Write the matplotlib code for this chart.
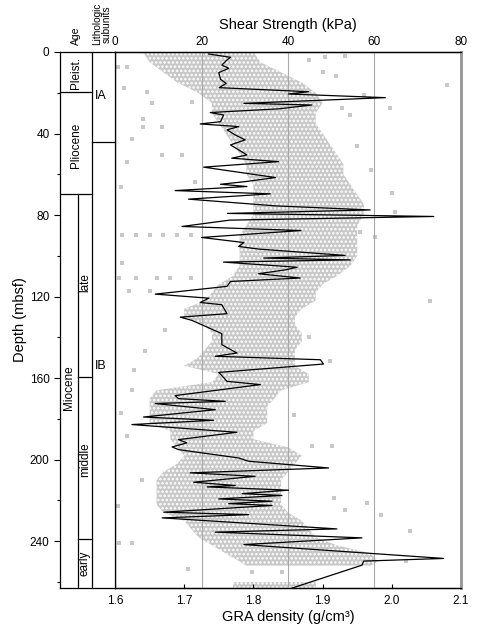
import numpy as np
import matplotlib
matplotlib.use("Agg")
import matplotlib.pyplot as plt

plt.rcParams['font.family'] = ['Liberation Sans', 'DejaVu Sans']
plt.rcParams['hatch.linewidth'] = 1.2

# ---- Shear strength (kPa) vs depth (mbsf) ----
shear_depth = [1.0, 2.6, 3.9, 6.4, 8.0, 10.1, 13.4, 15.4, 17.5, 19.5, 20.6, 22.4, 25.2, 26.0,
               27.9, 29.7, 30.9, 34.2, 35.3, 36.6, 38.2, 40.7, 43.1, 45.6, 50.5, 52.1, 53.8,
               56.5, 61.6, 63.6, 64.9, 66.0, 68.0, 69.6, 72.2, 75.5, 77.5, 79.2, 80.7, 82.5,
               85.6, 87.6, 91.0, 93.5, 95.4, 96.7, 99.8, 101.1, 102.0, 103.1, 105.6, 106.9,
               108.8, 110.9, 112.6, 115.0, 118.8, 120.8, 122.9, 124.0, 128.4, 130.1, 131.7,
               138.2, 143.6, 147.7, 149.3, 151.0, 153.1, 157.2, 158.8, 161.6, 163.2, 168.6,
               170.1, 171.4, 172.5, 175.5, 179.1, 180.7, 182.8, 186.6, 190.2, 191.8, 193.8,
               195.1, 199.2, 200.8, 204.1, 206.5, 208.2, 211.1, 212.7, 213.4, 215.0, 216.7,
               217.6, 219.3, 220.4, 221.6, 222.5, 225.8, 227.0, 228.6, 234.0, 235.6, 238.4,
               241.7, 248.5, 249.8, 251.8, 263.0]
shear_kpa = [21.7, 26.7, 25.9, 24.7, 26.3, 24.0, 24.4, 25.7, 24.1, 44.8, 40.1, 62.5, 29.8, 45.5,
             37.8, 22.0, 25.1, 24.4, 19.7, 28.6, 25.9, 27.8, 30.1, 26.7, 30.5, 27.0, 37.8,
             20.5, 37.1, 30.1, 24.4, 30.5, 13.9, 35.9, 17.0, 37.1, 59.0, 26.0, 73.7, 26.5,
             15.5, 43.0, 20.0, 29.8, 28.6, 33.2, 53.2, 34.4, 54.4, 25.1, 42.1, 39.4,
             33.2, 42.8, 26.7, 25.9, 9.3, 21.7, 19.7, 24.7, 25.9, 15.1, 17.8,
             24.7, 24.7, 28.2, 23.2, 47.5, 48.2, 24.0, 24.7, 25.9, 33.6, 13.9,
             14.7, 25.5, 9.3, 23.2, 6.6, 22.8, 3.9, 28.2, 14.7, 16.6, 13.2,
             14.7, 28.6, 30.9, 49.4, 17.4, 32.4, 18.2, 27.8, 21.3, 40.1, 29.4,
             38.6, 24.0, 36.3, 26.3, 36.3, 11.3, 30.9, 10.9, 51.3, 23.2, 57.1,
             29.8, 76.0, 57.5, 57.1, 41.0]

# ---- GRA density cloud: dense envelope (g/cm3) vs depth ----
gra_depth = [0, 5, 10, 15, 20, 25, 30, 35, 40, 45, 50, 55, 60, 65, 70, 75, 80, 85, 90, 95,
             100, 105, 110, 114, 118, 122, 126, 130, 134, 138, 142, 146, 150, 154, 158, 162,
             166, 170, 174, 178, 182, 186, 190, 194, 198, 202, 206, 210, 214, 218, 222, 226,
             230, 234, 238, 242, 246, 250, 252, 254, 258, 260, 263]
gra_lo = [1.64, 1.65, 1.67, 1.69, 1.72, 1.74, 1.74, 1.75, 1.76, 1.77, 1.78, 1.79, 1.79, 1.80,
          1.80, 1.80, 1.80, 1.79, 1.78, 1.78, 1.78, 1.78, 1.77, 1.75, 1.74, 1.73, 1.70, 1.70,
          1.73, 1.74, 1.74, 1.73, 1.72, 1.70, 1.75, 1.74, 1.66, 1.65, 1.65, 1.65, 1.65, 1.68,
          1.68, 1.69, 1.70, 1.69, 1.67, 1.66, 1.66, 1.66, 1.66, 1.67, 1.70, 1.71, 1.72, 1.74,
          1.76, 1.78, 1.79, np.nan, np.nan, 1.77, 1.77]
gra_hi = [1.80, 1.81, 1.84, 1.87, 1.89, 1.90, 1.89, 1.89, 1.90, 1.91, 1.92, 1.93, 1.93, 1.94,
          1.95, 1.96, 1.96, 1.95, 1.95, 1.95, 1.95, 1.94, 1.92, 1.90, 1.89, 1.89, 1.87, 1.86,
          1.86, 1.87, 1.87, 1.86, 1.86, 1.86, 1.88, 1.88, 1.84, 1.83, 1.82, 1.82, 1.82, 1.80,
          1.80, 1.85, 1.87, 1.86, 1.85, 1.84, 1.84, 1.84, 1.84, 1.85, 1.87, 1.88, 1.89, 1.92,
          1.97, 1.98, 1.97, np.nan, np.nan, 1.89, 1.89]

# scattered GRA points outside the dense cloud
out_depth = [7.2, 7.2, 17.8, 19.4, 25.2, 24.4, 27.6, 2.3, 2.1, 16.2, 27.6, 36.6, 36.6, 42.8,
             54.2, 50.5, 50.5, 66.0, 63.6, 69.3, 78.3, 89.6, 89.6, 89.6, 89.6, 89.6, 89.6,
             103.6, 111.0, 111.0, 111.0, 111.0, 111.0, 117.5, 117.5, 122.4, 88.1, 91.0,
             136.3, 146.9, 155.9, 165.7, 140.0, 151.8, 177.1, 188.6, 193.5, 193.5, 178.0,
             209.8, 218.8, 222.9, 240.8, 240.8, 227.3, 235.1, 249.9, 224.5, 221.2, 253.9,
             255.0, 255.0, 12.0, 31.0, 46.0, 58.0, 4.0, 10.0, 21.0, 33.0]
out_gra = [1.605, 1.617, 1.613, 1.646, 1.653, 1.711, 1.928, 1.904, 1.933, 2.08, 1.997, 1.641,
           1.668, 1.625, 1.617, 1.668, 1.697, 1.608, 1.716, 2.00, 2.005, 1.61, 1.63, 1.65,
           1.67, 1.69, 1.71, 1.61, 1.606, 1.63, 1.66, 1.68, 1.71, 1.62, 1.65, 2.055, 1.954,
           1.976, 1.672, 1.644, 1.627, 1.625, 1.88, 1.911, 1.608, 1.617, 1.914, 1.885, 1.858,
           1.639, 1.916, 1.605, 1.625, 1.606, 1.985, 2.027, 2.02, 1.932, 1.964, 1.706,
           1.798, 1.841, 1.92, 1.94, 1.95, 1.97, 1.88, 1.90, 1.96, 1.64]

# ---- Age / lithology columns ----
depth_ticks = [0, 40, 80, 120, 160, 200, 240]
gra_ticks = [1.6, 1.7, 1.8, 1.9, 2.0, 2.1]
kpa_ticks = [0, 20, 40, 60, 80]
DMAX = 263

fig = plt.figure(figsize=(4.78, 6.30), dpi=100)
W, H = 478, 630
L, R, T, B = 115, 461, 52, 588
ax = fig.add_axes([L / W, 1 - B / H, (R - L) / W, (B - T) / H])
cax = fig.add_axes([60 / W, 1 - B / H, (L - 60) / W, (B - T) / H], sharey=ax)

grey = '#c8c8c8'
ax.fill_betweenx(gra_depth, gra_lo, gra_hi, facecolor=grey, edgecolor='white',
                 hatch='....', linewidth=0, zorder=1)
ax.scatter(out_gra, out_depth, s=5, c=grey, marker='s', linewidths=0, zorder=1)
ax.set_xlim(1.6, 2.1)
ax.set_ylim(DMAX, 0)
ax.set_xticks(gra_ticks)
ax.set_xticklabels([f'{v:.1f}' for v in gra_ticks])
ax.tick_params(axis='x', direction='in', length=3, labelsize=8.5, pad=5)
ax.tick_params(axis='y', left=False, labelleft=False)
ax.set_xlabel('GRA density (g/cm³)', fontsize=10.5, labelpad=2)

ax2 = ax.twiny()
ax2.set_xlim(0, 80)
ax2.set_xticks(kpa_ticks)
ax2.tick_params(axis='x', direction='in', length=0, labelsize=8.5, pad=3)
for g in [20, 40, 60]:
    ax2.axvline(g, color='#a8a8a8', lw=0.8, zorder=0)
ax2.plot(shear_kpa, shear_depth, color='black', lw=0.9, zorder=3)
ax2.set_xlabel('Shear Strength (kPa)', fontsize=10.5, labelpad=5)
ax2.set_ylim(DMAX, 0)

for a in (ax, ax2):
    a.spines['right'].set_color('#9a9a9a')
    a.spines['right'].set_linewidth(2.0)
    for s in ('left', 'top', 'bottom'):
        a.spines[s].set_linewidth(0.9)

# column axes
cax.set_xlim(0, 1)
cax.set_yticks(depth_ticks)
cax.set_yticks(list(range(20, 261, 40)), minor=True)
cax.tick_params(axis='y', which='major', direction='out', length=4, labelsize=8.5, width=0.8)
cax.tick_params(axis='y', which='minor', direction='out', length=2.5, width=0.8)
cax.tick_params(axis='x', bottom=False, labelbottom=False)
cax.spines['right'].set_visible(False)
for s in ('left', 'top', 'bottom'):
    cax.spines[s].set_linewidth(0.9)
cax.set_ylabel('Depth (mbsf)', fontsize=10.5)
cax.yaxis.set_label_coords(-0.6, 0.5)

xa, xs = 0.587, 0.322
lw = 0.9
cax.axvline(xa, color='black', lw=lw)
cax.plot([xs, xs], [69.6, DMAX], color='black', lw=lw)
cax.plot([0, xa], [19.6, 19.6], color='black', lw=lw)
cax.plot([0, xa], [69.6, 69.6], color='black', lw=lw)
cax.plot([xs, xa], [159.5, 159.5], color='black', lw=lw)
cax.plot([xs, xa], [239.0, 239.0], color='black', lw=lw)
cax.plot([xa, 1], [44.1, 44.1], color='black', lw=lw)

fs = 8.5
cax.text(xa / 2, 10.5, 'Pleist.', rotation=90, ha='center', va='center', fontsize=fs)
cax.text(xa / 2, 46, 'Pliocene', rotation=90, ha='center', va='center', fontsize=fs)
cax.text(xs / 2, 164.5, 'Miocene', rotation=90, ha='center', va='center', fontsize=fs)
cax.text((xs + xa) / 2, 113, 'late', rotation=90, ha='center', va='center', fontsize=fs)
cax.text((xs + xa) / 2, 200, 'middle', rotation=90, ha='center', va='center', fontsize=fs)
cax.text((xs + xa) / 2, 251, 'early', rotation=90, ha='center', va='center', fontsize=fs)
cax.text(xa + 0.05, 21.5, 'IA', ha='left', va='center', fontsize=9)
cax.text(xa + 0.05, 154, 'IB', ha='left', va='center', fontsize=9)

fig.text(76 / W, 1 - 45 / H, 'Age', rotation=90, ha='center', va='bottom', fontsize=7.5)
fig.text(102 / W, 1 - 45 / H, 'Lithologic\nsubunits', rotation=90, ha='center', va='bottom',
         fontsize=7.2, linespacing=0.85)

fig.savefig('out.png', dpi=100)
